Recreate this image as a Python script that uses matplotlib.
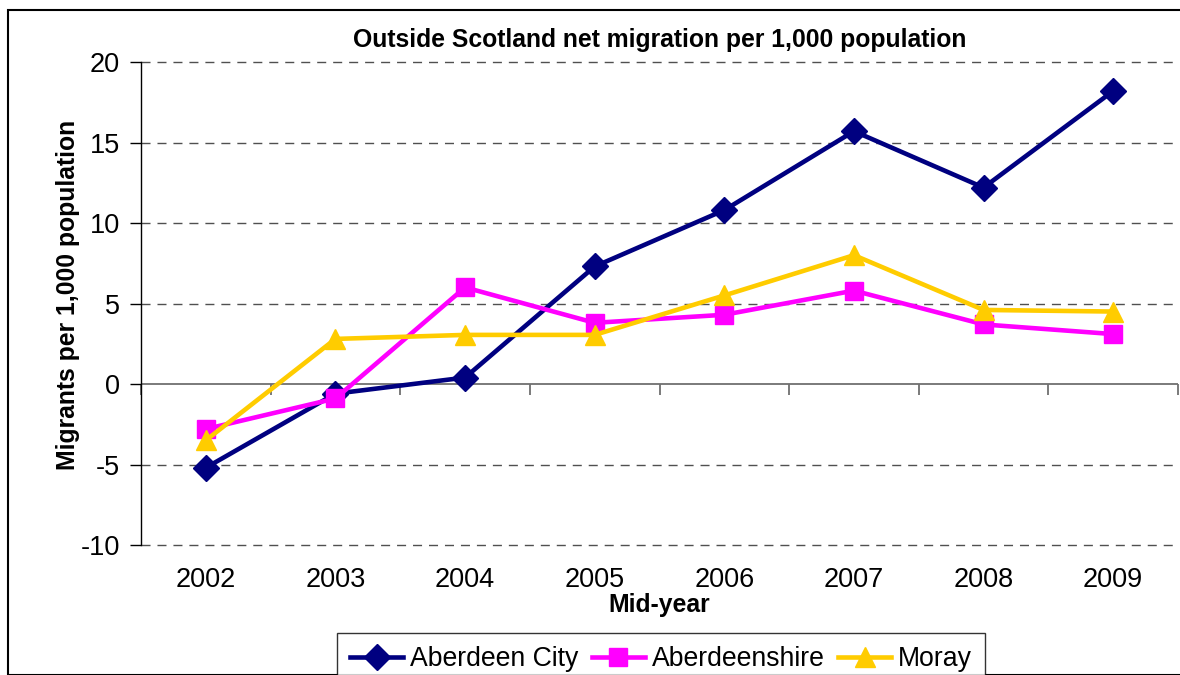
import matplotlib
matplotlib.use('Agg')
import matplotlib.pyplot as plt
from matplotlib.patches import Rectangle

# Data
years = ['2002', '2003', '2004', '2005', '2006', '2007', '2008', '2009']
aberdeen_city = [-5.2, -0.6, 0.4, 7.3, 10.8, 15.7, 12.2, 18.2]
aberdeenshire = [-2.8, -0.9, 6.0, 3.8, 4.3, 5.8, 3.7, 3.1]
moray = [-3.5, 2.8, 3.05, 3.05, 5.5, 8.0, 4.6, 4.5]
yticks = [-10, -5, 0, 5, 10, 15, 20]

plt.rcParams['font.family'] = ['Liberation Sans', 'DejaVu Sans']

W, H = 1180, 675
fig = plt.figure(figsize=(W / 100., H / 100.), dpi=100)
ax = fig.add_axes([141. / W, 1 - 545. / H, 1037. / W, 483. / H])

x = list(range(1, len(years) + 1))
series = [(aberdeen_city, 'Aberdeen City', '#000080', 'D', 13),
          (aberdeenshire, 'Aberdeenshire', '#FF00FF', 's', 13.5),
          (moray, 'Moray', '#FFCC00', '^', 14)]
for i, (vals, name, col, mk, ms) in enumerate(series):
    ax.plot(x, vals, color=col, lw=3.3, marker=mk, markersize=ms,
            markeredgecolor=col, label=name, zorder=3 + i, clip_on=False)

ax.set_xlim(0.5, len(years) + 0.5)
ax.set_ylim(-10, 20)
ax.set_yticks(yticks)
ax.set_yticklabels([str(v) for v in yticks], fontsize=19.5)
ax.tick_params(axis='y', length=8, width=1, direction='out', pad=7)
ax.set_xticks(x)
ax.set_xticklabels(years, fontsize=19.5)
ax.tick_params(axis='x', length=0, pad=16)

for s in ('top', 'right', 'bottom'):
    ax.spines[s].set_visible(False)
ax.spines['left'].set_linewidth(1)

# dashed gridlines, solid zero line
for v in yticks:
    if v != 0:
        ax.axhline(v, color='#505050', lw=1, ls=(0, (6.5, 5)), zorder=1,
                   clip_on=False)
ax.axhline(0, color='#707070', lw=1.3, zorder=2)

# category boundary ticks on the zero line
sec = ax.secondary_xaxis(1. / 3)
sec.set_xticks([b + 0.5 for b in range(0, len(years) + 1)])
sec.set_xticklabels([])
sec.tick_params(length=8, width=1.3, color='#707070', direction='out')
sec.spines['bottom'].set_visible(False)

ax.set_title('Outside Scotland net migration per 1,000 population',
             fontsize=17.8, fontweight='bold', pad=11)
ax.set_ylabel('Migrants per 1,000 population', fontsize=17.8,
              fontweight='bold')
ax.yaxis.set_label_coords(-0.0588, 0.5176)
ax.set_xlabel('Mid-year', fontsize=17.8, fontweight='bold', labelpad=0)

leg = fig.legend(loc='upper center', bbox_to_anchor=(661. / W, 1 - 633. / H),
                 ncol=3, fontsize=19.2, frameon=True, fancybox=False,
                 edgecolor='black', handlelength=2.0, handletextpad=0.25,
                 columnspacing=0.5, borderpad=0.5, borderaxespad=0)
leg.get_frame().set_linewidth(1)

fig.patches.append(Rectangle((8. / W, 0), 1.2, 1 - 10. / H, transform=fig.transFigure,
                             fill=False, edgecolor='black', lw=1.5))

fig.savefig('out.png', dpi=100)
